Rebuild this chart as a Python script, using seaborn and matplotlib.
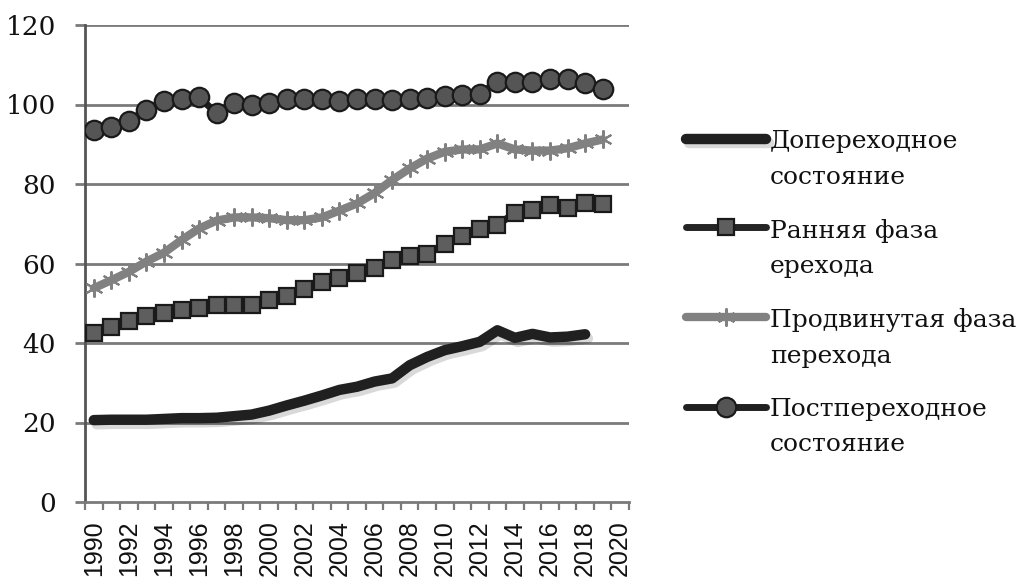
import numpy as np
import pandas as pd
import matplotlib
matplotlib.use("Agg")
import matplotlib.pyplot as plt
import matplotlib.patheffects as pe
import seaborn as sns

# ---- data ----
years_pre = list(range(1990, 2019))
pre_transition = [20.6, 20.7, 20.7, 20.7, 20.9, 21.1, 21.1, 21.2, 21.6, 22.0,
                  23.0, 24.3, 25.5, 26.8, 28.2, 29.0, 30.3, 31.1, 34.4, 36.5,
                  38.2, 39.2, 40.3, 43.2, 41.3, 42.3, 41.4, 41.6, 42.2]
years_all = list(range(1990, 2020))
early_phase = [42.4, 43.9, 45.5, 46.8, 47.6, 48.3, 48.7, 49.6, 49.6, 49.6,
               50.8, 51.8, 53.5, 55.4, 56.3, 57.5, 58.8, 60.8, 62.0, 62.5,
               64.8, 67.0, 68.8, 69.6, 72.8, 73.5, 74.8, 74.0, 75.1, 75.0]
advanced_phase = [53.8, 55.8, 57.9, 60.5, 62.7, 65.9, 68.8, 70.8, 71.6, 71.6,
                  71.4, 70.9, 70.9, 71.6, 73.3, 75.1, 77.7, 81.0, 83.9, 86.4,
                  88.1, 88.7, 88.7, 90.2, 88.7, 88.4, 88.4, 89.0, 90.2, 91.2]
post_transition = [93.6, 94.4, 95.8, 98.6, 101.0, 101.4, 101.8, 97.8, 100.5, 100.0,
                   100.5, 101.3, 101.3, 101.5, 100.9, 101.3, 101.3, 101.1, 101.3, 101.6,
                   102.1, 102.4, 102.6, 105.7, 105.7, 105.7, 106.3, 106.3, 105.3, 103.8]
series_labels = ["Допереходное\nсостояние", "Ранняя фаза\nерехода",
                 "Продвинутая фаза\nперехода", "Постпереходное\nсостояние"]
y_ticks = [0, 20, 40, 60, 80, 100, 120]
x_label_years = list(range(1990, 2021, 2))
x_categories = list(range(1990, 2021))

sns.set_theme(style="white")
plt.rcParams["font.family"] = ["DejaVu Serif"]

fig = plt.figure(figsize=(10.22, 5.84), dpi=100)
ax = fig.add_axes([85 / 1022, 1 - 502 / 584, (629 - 85) / 1022, (502 - 25) / 584])

shadow = [pe.SimpleLineShadow(offset=(2, -3), shadow_color="black", alpha=0.15), pe.Normal()]
grid_col = "#7a7a7a"

for yv in y_ticks[1:]:
    ax.axhline(yv, color=grid_col, lw=2.0, zorder=1)

sns.lineplot(x=years_pre, y=pre_transition, ax=ax, color="#202020", lw=7.5,
             solid_capstyle="round", label=series_labels[0], zorder=3,
             path_effects=shadow)
sns.lineplot(x=years_all, y=early_phase, ax=ax, color="#252525", lw=5,
             marker="s", markersize=11, markerfacecolor="#5e5e5e",
             markeredgecolor="#1a1a1a", markeredgewidth=1.6,
             solid_capstyle="round", label=series_labels[1], zorder=4)
sns.lineplot(x=years_all, y=advanced_phase, ax=ax, color="#818181", lw=6,
             marker=(6, 2, 0), markersize=13, markeredgecolor="#818181",
             markeredgewidth=1.5, solid_capstyle="round",
             label=series_labels[2], zorder=4)
sns.lineplot(x=years_all, y=post_transition, ax=ax, color="#202020", lw=5,
             marker="o", markersize=14, markerfacecolor="#555555",
             markeredgecolor="#1a1a1a", markeredgewidth=1.6,
             solid_capstyle="round", label=series_labels[3], zorder=5)

if ax.get_legend() is not None:
    ax.get_legend().remove()

# category-style x axis: labels at category centres, tick marks between categories
ax.set_xlim(x_categories[0] - 0.5, x_categories[-1] + 0.5)
ax.set_ylim(0, 120)
ax.set_yticks(y_ticks)
ax.set_yticklabels([str(v) for v in y_ticks], fontsize=19, family="DejaVu Serif")
ax.set_xticks(x_label_years)
ax.set_xticklabels([str(y) for y in x_label_years], rotation=90, fontsize=18,
                   family="Liberation Sans", va="top")
ax.set_xticks([c - 0.5 for c in x_categories] + [x_categories[-1] + 0.5], minor=True)
ax.tick_params(axis="y", direction="out", length=7, width=2, color=grid_col, pad=14,
               left=True, labelcolor="#111111")
ax.tick_params(axis="x", which="major", length=0, pad=13, bottom=True,
               labelcolor="#111111")
ax.tick_params(axis="x", which="minor", direction="out", length=6, width=1.6,
               color=grid_col, bottom=True)
ax.set_xlabel("")
ax.set_ylabel("")
for s in ["top", "right"]:
    ax.spines[s].set_visible(False)
ax.spines["left"].set_color("#555555")
ax.spines["left"].set_linewidth(2)
ax.spines["bottom"].set_color(grid_col)
ax.spines["bottom"].set_linewidth(2)

handles, labels = ax.get_legend_handles_labels()
leg = fig.legend(handles, labels, loc="upper left",
                 bbox_to_anchor=(686 / 1022, 1 - 130 / 584),
                 frameon=False, fontsize=18, handlelength=3.2, handletextpad=0.15,
                 labelspacing=1.2, borderpad=0, borderaxespad=0, numpoints=1)
for col in leg._legend_handle_box.get_children():
    for item in col.get_children():
        item.align = "top"
for t in leg.get_texts():
    t.set_color("#111111")
    t.set_linespacing(1.7)

fig.savefig("out.png", dpi=100)
